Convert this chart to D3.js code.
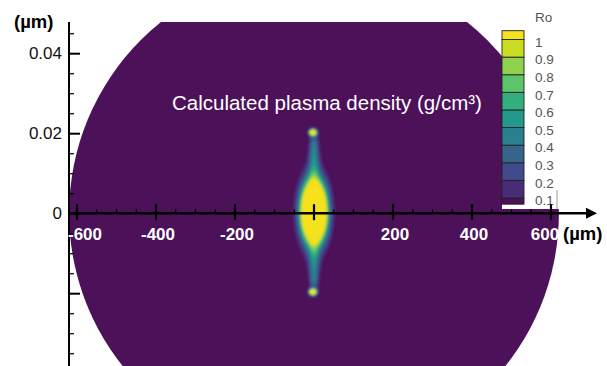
<!DOCTYPE html>
<html><head><meta charset="utf-8">
<script src="https://cdn.jsdelivr.net/npm/d3@7"></script>
<style>html,body{margin:0;padding:0;background:#fff;}svg{display:block;font-family:"Liberation Sans",Arial,Helvetica,sans-serif;}</style>
</head><body>
<svg id="c" width="607" height="366"></svg>
<script>
// ---- data ----
const xMajorTicks = [-600, -400, -200, 200, 400, 600];
const xMinorTicks = [-550,-500,-450,-350,-300,-250,-150,-100,-50,50,100,150,250,300,350,450,500,550];
const yMajorTicks = [0.04, 0.02, 0, -0.02];
const yMinorTicks = [0.045,0.035,0.03,0.025,0.015,0.01,0.005,-0.005,-0.01,-0.015,-0.025,-0.03,-0.035];
const domainRadius = 620; // µm, extent of simulated region
// density components: x(µm), y, sx(µm), sy, amplitude (g/cm3)
const blobX   = [0,      0,      0,      0,       0,       -3,     -3];
const blobY   = [0.0003, 0.012,  0.0172, -0.0115, -0.0168, 0.0202, -0.0197];
const blobSx  = [20,     10,     8,      10,      8,       6,      6];
const blobSy  = [0.0048, 0.0035, 0.0025, 0.0035,  0.0025,  0.0005, 0.0005];
const blobAmp = [3.4,    0.38,   0.32,   0.38,    0.32,    1.8,    1.8];
const levels = [0.1,0.2,0.3,0.4,0.5,0.6,0.7,0.8,0.9,1.0];
const levelColors = ["#482c78","#414a8a","#36648d","#2b7f8e","#22998a","#33ae7f","#5bc46c","#8ed24e","#c9dd23","#f5e11d"];
const bgColor = "#4c1159";
const title = "Calculated plasma density (g/cm³)";
const cbTitle = "Ro";

// ---- scales ----
const svg = d3.select("#c");
const x = d3.scaleLinear().domain([-600, 600]).range([77, 551]);
const y = d3.scaleLinear().domain([-0.0382, 0.0478]).range([366, 22]);
const y0 = y(0), x0 = x(0);

svg.append("defs").html('<clipPath id="plot"><rect x="0" y="'+y(0.0478)+'" width="607" height="400"/></clipPath><filter id="soft" x="-50%" y="-50%" width="200%" height="200%"><feGaussianBlur stdDeviation="1.2"/></filter>');

// domain disc
svg.append("circle").attr("cx", x0).attr("cy", y0)
  .attr("r", x(domainRadius) - x0).attr("fill", bgColor).attr("clip-path","url(#plot)");

// density field
const gx0 = 250, gy0 = 100, gw = 130, gh = 230;
const vals = new Float64Array(gw*gh);
for (let j=0;j<gh;j++) for (let i=0;i<gw;i++){
  const xv = x.invert(gx0+i+0.5), yv = y.invert(gy0+j+0.5);
  let s=0;
  for (let k=0;k<blobX.length;k++){
    const dx=(xv-blobX[k])/blobSx[k], dy=(yv-blobY[k])/blobSy[k];
    s += blobAmp[k]*Math.exp(-0.5*(dx*dx+dy*dy));
  }
  vals[j*gw+i]=s;
}
const contours = d3.contours().size([gw,gh]).thresholds(levels)(vals);
const path = d3.geoPath(d3.geoIdentity().translate([gx0,gy0]));
svg.append("g").attr("filter","url(#soft)").selectAll("path").data(contours).join("path")
  .attr("d", path).attr("fill", (d,i)=>levelColors[i]);

// colorbar box
svg.append("rect").attr("x",502).attr("y",10).attr("width",64).attr("height",199).attr("fill","#fff");
svg.append("line").attr("x1",557).attr("x2",557).attr("y1",190).attr("y2",209).attr("stroke","#999").attr("stroke-width",1);
const cb = d3.scaleLinear().domain([0.1, 1]).range([198, 39.5]);
const bandEdges = [0.065].concat(levels).concat([1.05]);
const cbColors = [bgColor].concat(levelColors);
svg.append("g").selectAll("rect").data(cbColors).join("rect")
  .attr("x",502).attr("width",22)
  .attr("y",(d,i)=>cb(bandEdges[i+1])).attr("height",(d,i)=>cb(bandEdges[i])-cb(bandEdges[i+1]))
  .attr("fill",d=>d).attr("stroke","#222").attr("stroke-width",0.9);
svg.append("g").selectAll("text").data(levels).join("text")
  .attr("x",535).attr("y",d=>cb(d)+2.5).attr("dy","0.35em")
  .attr("font-size",13.5).attr("fill","#555")
  .text(d=>d===1?"1":d.toFixed(1));
svg.append("text").attr("x",535).attr("y",17).attr("dy","0.35em").attr("font-size",13.5).attr("fill","#555").text(cbTitle);

// title
svg.append("text").attr("x",172).attr("y",110).attr("font-size",20.5).attr("fill","#fff").text(title);

// y axis
const yAxis = d3.axisLeft(y).tickValues(yMajorTicks).tickSizeInner(-11).tickSizeOuter(0).tickPadding(7)
  .tickFormat(v => v < 0 ? "" : (v === 0 ? "0" : v.toFixed(2)));
const gy = svg.append("g").attr("transform",`translate(69,0)`).call(yAxis);
gy.select(".domain").remove();
gy.selectAll("line").attr("stroke","#000").attr("stroke-width",2);
gy.selectAll("text").attr("font-size",17).attr("fill","#111").attr("font-family","Liberation Sans, Arial, sans-serif");
const gym = svg.append("g").attr("transform",`translate(69,0)`)
  .call(d3.axisLeft(y).tickValues(yMinorTicks).tickSizeInner(-5).tickSizeOuter(0).tickFormat(""));
gym.select(".domain").remove();
gym.selectAll("line").attr("stroke","#000").attr("stroke-width",1.2);
svg.append("line").attr("x1",69).attr("x2",69).attr("y1",y(0.0478)).attr("y2",366).attr("stroke","#000").attr("stroke-width",2);

// x axis
svg.append("line").attr("x1",68).attr("x2",586).attr("y1",y0).attr("y2",y0).attr("stroke","#000").attr("stroke-width",2.6);
svg.append("path").attr("d",`M${586},${y0-5.5}L${597},${y0}L${586},${y0+5.5}Z`).attr("fill","#000");
svg.append("g").selectAll("line").data(xMinorTicks).join("line")
  .attr("x1",d=>x(d)).attr("x2",d=>x(d)).attr("y1",y0-4).attr("y2",y0).attr("stroke","#000").attr("stroke-width",1.2);
svg.append("g").selectAll("line").data(xMajorTicks.concat([0])).join("line")
  .attr("x1",d=>x(d)).attr("x2",d=>x(d)).attr("y1",y0-9).attr("y2",y0+7).attr("stroke","#000").attr("stroke-width",2.2);
const labelShift = {"-600": 8, "600": -6};
svg.append("g").selectAll("text").data(xMajorTicks).join("text")
  .attr("x",d=>x(d) + (labelShift[d] !== undefined ? labelShift[d] : 2)).attr("y",240).attr("text-anchor","middle")
  .attr("font-size",17).attr("font-weight","bold").attr("fill","#fff")
  .text(d=>String(d));
svg.append("text").attr("x",563).attr("y",240).attr("font-size",18.5).attr("font-weight","bold").attr("fill","#000").text("(µm)");
svg.append("text").attr("x",14).attr("y",28).attr("font-size",18.5).attr("font-weight","bold").attr("fill","#000").text("(µm)");
</script>
</body></html>
